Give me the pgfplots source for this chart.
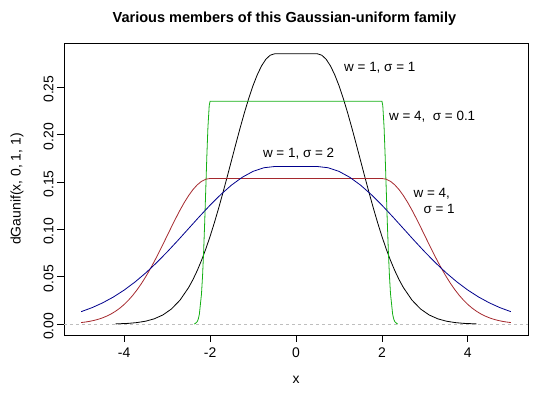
\documentclass[border=0pt]{standalone}
\usepackage{fontspec}
\setmainfont{Liberation Sans}
\usepackage{pgfplots}
\pgfplotsset{compat=1.18}
\definecolor{cblack}{RGB}{0,0,0}
\definecolor{cgreen}{RGB}{20,175,20}
\definecolor{cred}{RGB}{165,40,45}
\definecolor{cblue}{RGB}{0,0,140}
\definecolor{cgray}{RGB}{190,190,190}
\begin{document}
\begin{tikzpicture}
\useasboundingbox (-64bp,-59bp) rectangle (476bp,335bp);
\begin{axis}[
  at={(0,0)}, anchor=south west,
  scale only axis, width=464bp, height=292bp,
  xmin=-5.4, xmax=5.4, ymin=-0.0114, ymax=0.2966,
  axis line style={line width=0.8bp},
  xtick={-4,-2,0,2,4},
  ytick={0,0.05,0.1,0.15,0.2,0.25},
  tick align=outside, tickwidth=7bp,
  major tick style={line width=0.8bp, black},
  xtick pos=bottom, ytick pos=left,
  /pgf/number format/assume math mode=true,
  yticklabel={\pgfmathprintnumber[fixed,fixed zerofill,precision=2]{\tick}},
  xticklabel={\pgfmathprintnumber{\tick}},
  ticklabel style={font=\fontsize{14}{16}\selectfont},
  yticklabel style={rotate=90, anchor=south, xshift=-2bp},
  xticklabel style={anchor=north, yshift=-2bp},
  xlabel={x},
  label style={font=\fontsize{14}{16}\selectfont},
  xlabel style={at={(axis description cs:0.5,-0.154)}, anchor=center},
  title={Various members of this Gaussian-uniform family},
  title style={font=\fontsize{14.6}{17}\selectfont\bfseries, at={(axis description cs:0.475,1)}, anchor=center, yshift=18bp},
  clip=true,
]
\addplot[cgray, dashed, line width=0.7bp, dash pattern=on 3bp off 3bp] coordinates {(-5.4,0) (5.4,0)};
% w=1, sigma=1
\addplot[cblack, line width=0.8bp] coordinates {
(-4.2,0.00031) (-3.9,0.00088) (-3.7,0.00171) (-3.5,0.00317) (-3.3,0.00566) (-3.1,0.00971) (-2.9,0.01601) (-2.7,0.02536) (-2.5,0.03860) (-2.4,0.04690) (-2.3,0.05644) (-2.2,0.06723) (-2.1,0.07929) (-2.0,0.09258) (-1.9,0.10703) (-1.8,0.12250) (-1.7,0.13881) (-1.6,0.15572) (-1.5,0.17296) (-1.4,0.19020) (-1.3,0.20708) (-1.2,0.22320) (-1.1,0.23820) (-1.0,0.25167) (-0.9,0.26325) (-0.8,0.27263) (-0.7,0.27953) (-0.6,0.28375) (-0.5,0.28517)
(0.5,0.28517) (0.6,0.28375) (0.7,0.27953) (0.8,0.27263) (0.9,0.26325) (1.0,0.25167) (1.1,0.23820) (1.2,0.22320) (1.3,0.20708) (1.4,0.19020) (1.5,0.17296) (1.6,0.15572) (1.7,0.13881) (1.8,0.12250) (1.9,0.10703) (2.0,0.09258) (2.1,0.07929) (2.2,0.06723) (2.3,0.05644) (2.4,0.04690) (2.5,0.03860) (2.7,0.02536) (2.9,0.01601) (3.1,0.00971) (3.3,0.00566) (3.5,0.00317) (3.7,0.00171) (3.9,0.00088) (4.2,0.00031)
};
% w=4, sigma=0.1
\addplot[cgreen, line width=0.8bp] coordinates {
(-2.37,0.00025) (-2.35,0.00051) (-2.3,0.00261) (-2.275,0.00536) (-2.25,0.01034) (-2.2,0.03184) (-2.175,0.05089) (-2.15,0.07639) (-2.125,0.10770) (-2.1,0.14269) (-2.075,0.17757) (-2.05,0.20762) (-2.02,0.23060) (-2,0.23526)
(2,0.23526) (2.02,0.23060) (2.05,0.20762) (2.075,0.17757) (2.1,0.14269) (2.125,0.10770) (2.15,0.07639) (2.175,0.05089) (2.2,0.03184) (2.25,0.01034) (2.275,0.00536) (2.3,0.00261) (2.35,0.00051) (2.37,0.00025)
};
% w=4, sigma=1
\addplot[cred, line width=0.8bp] coordinates {
(-5.0,0.00171) (-4.9,0.00229) (-4.8,0.00305) (-4.7,0.00401) (-4.6,0.00523) (-4.5,0.00675) (-4.4,0.00863) (-4.3,0.01091) (-4.2,0.01367) (-4.1,0.01694) (-4.0,0.02080) (-3.9,0.02528) (-3.8,0.03042) (-3.7,0.03623) (-3.6,0.04273) (-3.5,0.04990) (-3.4,0.05768) (-3.3,0.06602) (-3.2,0.07481) (-3.1,0.08393) (-3.0,0.09322) (-2.9,0.10251) (-2.8,0.11160) (-2.7,0.12029) (-2.6,0.12837) (-2.5,0.13563) (-2.4,0.14187) (-2.3,0.14693) (-2.2,0.15065) (-2.1,0.15292) (-2.0,0.15369)
(2.0,0.15369) (2.1,0.15292) (2.2,0.15065) (2.3,0.14693) (2.4,0.14187) (2.5,0.13563) (2.6,0.12837) (2.7,0.12029) (2.8,0.11160) (2.9,0.10251) (3.0,0.09322) (3.1,0.08393) (3.2,0.07481) (3.3,0.06602) (3.4,0.05768) (3.5,0.04990) (3.6,0.04273) (3.7,0.03623) (3.8,0.03042) (3.9,0.02528) (4.0,0.02080) (4.1,0.01694) (4.2,0.01367) (4.3,0.01091) (4.4,0.00863) (4.5,0.00675) (4.6,0.00523) (4.7,0.00401) (4.8,0.00305) (4.9,0.00229) (5.0,0.00171)
};
% w=1, sigma=2
\addplot[cblue, line width=0.8bp] coordinates {
(-5.0,0.01323) (-4.75,0.01739) (-4.5,0.02251) (-4.25,0.02867) (-4.0,0.03597) (-3.75,0.04441) (-3.5,0.05399) (-3.25,0.06462) (-3.0,0.07614) (-2.75,0.08832) (-2.5,0.10087) (-2.25,0.11341) (-2.0,0.12553) (-1.75,0.13679) (-1.5,0.14676) (-1.25,0.15501) (-1.0,0.16118) (-0.75,0.16501) (-0.5,0.16630)
(0.5,0.16630) (0.75,0.16501) (1.0,0.16118) (1.25,0.15501) (1.5,0.14676) (1.75,0.13679) (2.0,0.12553) (2.25,0.11341) (2.5,0.10087) (2.75,0.08832) (3.0,0.07614) (3.25,0.06462) (3.5,0.05399) (3.75,0.04441) (4.0,0.03597) (4.25,0.02867) (4.5,0.02251) (4.75,0.01739) (5.0,0.01323)
};
\node[font=\fontsize{13.5}{16}\selectfont] at (axis cs:1.95,0.2709) {w = 1, σ = 1};
\node[font=\fontsize{13.5}{16}\selectfont] at (axis cs:3.17,0.219) {w = 4,\ \ σ = 0.1};
\node[font=\fontsize{13.5}{16}\selectfont] at (axis cs:0.06,0.180) {w = 1, σ = 2};
\node[font=\fontsize{13.5}{16}\selectfont] at (axis cs:3.16,0.1374) {w = 4,};
\node[font=\fontsize{13.5}{16}\selectfont] at (axis cs:3.33,0.1211) {σ = 1};
\end{axis}
\node[rotate=90, font=\fontsize{14}{16}\selectfont] at (-47bp,146bp) {dGaunif(x, 0, 1, 1)};
\end{tikzpicture}
\end{document}
